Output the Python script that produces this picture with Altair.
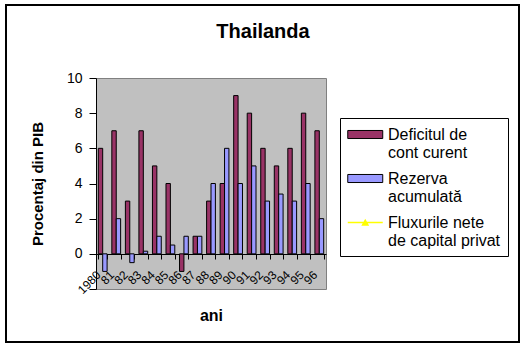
import altair as alt
import pandas as pd

YEARS = ["1980", "81", "82", "83", "84", "85", "86", "87", "88", "89",
         "90", "91", "92", "93", "94", "95", "96"]
DEFICIT = [6, 7, 3, 7, 5, 4, -1, 1, 3, 4, 9, 8, 6, 5, 6, 8, 7]
REZERVA = [-1, 2, -0.5, 0.15, 1, 0.5, 1, 1, 4, 6, 4, 5, 3, 3.4, 3, 4, 2]
SERIES = ["Deficitul de|cont curent", "Rezerva|acumulată", "Fluxurile nete|de capital privat"]
COLORS = ["#993366", "#9999FF", "#FFFF00"]
TITLE = "Thailanda"
Y_TITLE = "Procentaj din PIB"
X_TITLE = "ani"
Y_TICKS = [-2, 0, 2, 4, 6, 8, 10]
Y_DOMAIN = [-2, 10]

rows = []
for i, yr in enumerate(YEARS):
    rows.append({"an": yr, "serie": SERIES[0], "valoare": DEFICIT[i]})
    rows.append({"an": yr, "serie": SERIES[1], "valoare": REZERVA[i]})
df = pd.DataFrame(rows)

FONT = "Liberation Sans"

bar_path = "M-1,-0.46H3V0.46H-1Z"
line_path = "M-1,-0.09H3V0.09H-1Z M0.55,0.36L1,-0.44L1.45,0.36Z"
shape_sig = "indexof(datum.value, 'Flux') >= 0 ? '%s' : '%s'" % (line_path, bar_path)
stroke_sig = "indexof(datum.value, 'Flux') >= 0 ? 'transparent' : 'black'"

legend = alt.Legend(
    title=None, orient="none", legendX=244, legendY=40,
    strokeColor="black", fillColor="white", padding=7,
    symbolSize=306, labelFont=FONT, labelFontSize=16, labelColor="black",
    labelExpr="split(datum.label, '|')", labelOffset=22, rowPadding=8,
    labelLimit=300, labelBaseline="middle",
    symbolType={"expr": shape_sig},
    symbolStrokeColor={"expr": stroke_sig},
    symbolStrokeWidth=1,
)

bars = alt.Chart(df).mark_bar(stroke="black", strokeWidth=1).encode(
    x=alt.X("an:N", sort=YEARS,
            scale=alt.Scale(paddingInner=0.35, paddingOuter=0.17),
            axis=alt.Axis(title=X_TITLE, titleFont=FONT, titleFontSize=16,
                          titleFontWeight="bold", titleColor="black",
                          titleY=66, titleBaseline="alphabetic",
                          offset=-35, domainColor="black", tickColor="black",
                          tickSize=5, tickBand="extent", labelAngle=315,
                          labelAlign="right", labelBaseline="top",
                          labelPadding=10, labelOffset=-8, labelFont=FONT,
                          labelFontSize=12, labelColor="black",
                          labelOverlap=False)),
    xOffset=alt.XOffset("serie:N", scale=alt.Scale(domain=SERIES[:2])),
    y=alt.Y("valoare:Q",
            scale=alt.Scale(domain=Y_DOMAIN, nice=False),
            axis=alt.Axis(title=Y_TITLE, titleFont=FONT, titleFontSize=15,
                          titleFontWeight="bold", titleColor="black",
                          titleX=-54, titleBaseline="alphabetic",
                          values=Y_TICKS, grid=False,
                          labelExpr="datum.value < 0 ? '' : datum.label",
                          domainColor="black", tickColor="black", tickSize=7,
                          labelPadding=7, labelFont=FONT, labelFontSize=14,
                          labelColor="black")),
    color=alt.Color("serie:N", scale=alt.Scale(domain=SERIES, range=COLORS),
                    legend=legend),
)

frame = alt.Chart(pd.DataFrame({"k": [0]})).mark_rect(
    fill="transparent", stroke="black", strokeWidth=2
).encode(x=alt.value(-90), x2=alt.value(423), y=alt.value(-73), y2=alt.value(264))

title = alt.Chart(pd.DataFrame({"t": [TITLE]})).mark_text(
    font=FONT, fontSize=20, fontWeight="bold", color="black",
    align="center", baseline="alphabetic"
).encode(text="t:N", x=alt.value(167), y=alt.value(-40))

chart = alt.layer(frame, bars, title).properties(
    width=230, height=211,
    padding={"left": 96, "top": 78, "right": 202, "bottom": 60},
    autosize=alt.AutoSizeParams(type="none"),
).configure(
    style={"guide-label": {"lineHeight": 18}}
).configure_view(fill="#C0C0C0", stroke="#808080")

chart.save("out.html", embed_options={"renderer": "svg", "actions": False})
